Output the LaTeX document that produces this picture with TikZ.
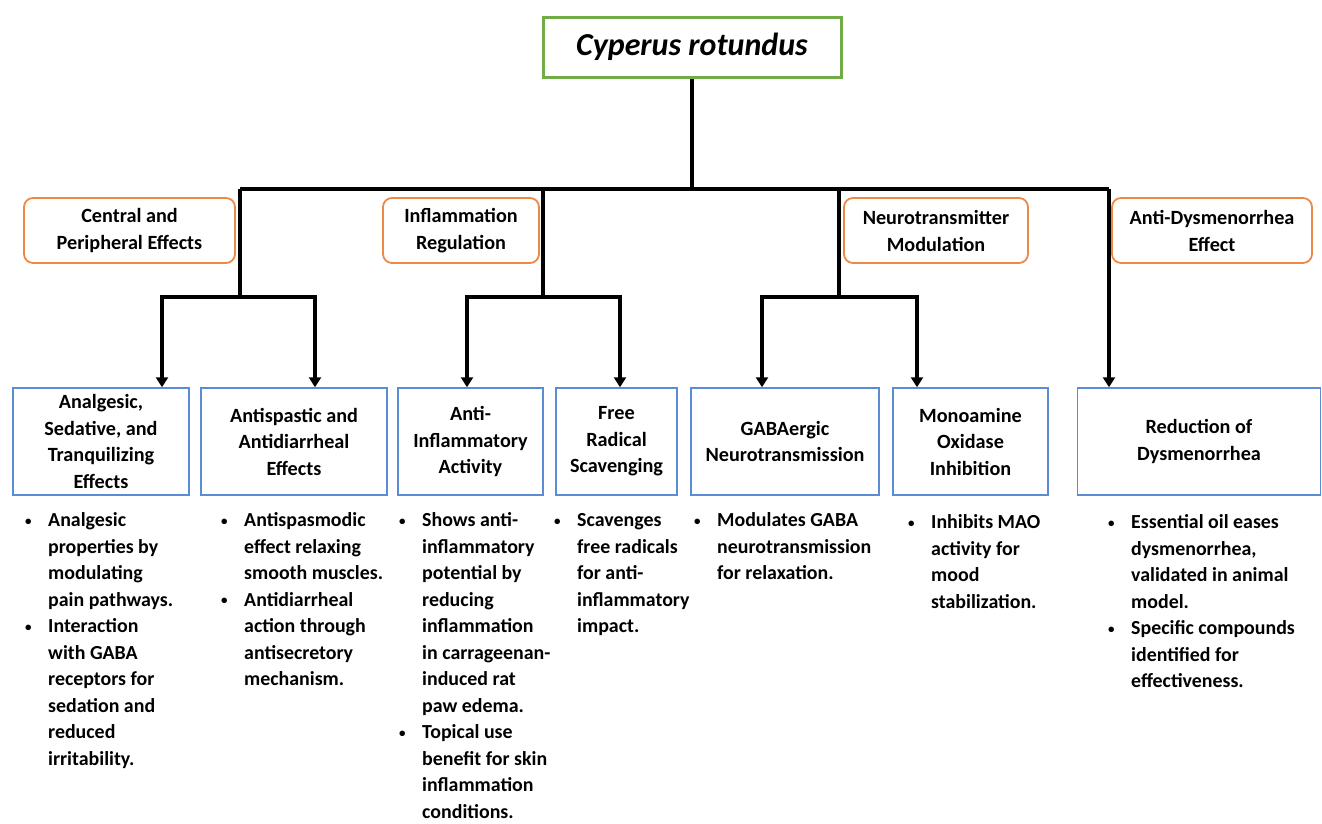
\documentclass[tikz,border=0pt]{standalone}
\usepackage{fontspec}
\setmainfont{Carlito}
\usetikzlibrary{arrows.meta}
\definecolor{rootgreen}{RGB}{112,173,71}
\definecolor{catorange}{RGB}{237,137,70}
\definecolor{itemblue}{RGB}{91,141,214}
\newcommand{\bul}{\raisebox{1.5pt}{\fontsize{13}{13}\selectfont\textbullet}}
\tikzstyle{root} = [rectangle, minimum width=298pt, minimum height=60pt, inner sep=0pt, draw=rootgreen, line width=3pt, font=\bfseries\itshape\fontsize{32}{38}\selectfont]
\tikzstyle{category} = [rectangle, rounded corners=9pt, minimum height=65pt, inner sep=0pt, align=center, draw=catorange, line width=1.8pt, font=\bfseries\fontsize{20.2}{27}\selectfont]
\tikzstyle{effect} = [rectangle, minimum height=107pt, inner sep=0pt, align=center, draw=itemblue, line width=1.5pt, font=\bfseries\fontsize{20.2}{26.5}\selectfont]
\tikzstyle{bullets} = [anchor=north west, inner sep=0pt, font=\bfseries\fontsize{19.9}{26.5}\selectfont]
\tikzstyle{conn} = [line width=3.6pt]
\tikzstyle{arrow} = [line width=3.6pt, -{Triangle[width=12pt,length=10pt]}]
\tikzstyle{arrows2} = [line width=3.6pt, {Triangle[width=12pt,length=10pt]}-{Triangle[width=12pt,length=10pt]}]

\begin{document}
\begin{tikzpicture}[x=1pt, y=-1pt]
    \useasboundingbox (0,0) rectangle (1322,823);
    %nodes
    \node (root) [root] at (692,47) {Cyperus rotundus};

    \node (cpe) [category, minimum width=211pt] at (129.5,230.5) {Central and\\Peripheral Effects};
    \node (infl) [category, minimum width=156pt] at (461,230.5) {Inflammation\\Regulation};
    \node (neu) [category, minimum width=184pt] at (936,230.5) {Neurotransmitter\\Modulation};
    \node (adys) [category, minimum width=200pt] at (1212,230.5) {Anti-Dysmenorrhea\\Effect};

    \node (anl) [effect, minimum width=176pt] at (101,441.5) {Analgesic,\\Sedative, and\\Tranquilizing\\Effects};
    \node (asp) [effect, minimum width=186pt] at (294,441.5) {Antispastic and\\Antidiarrheal\\Effects};
    \node (ainf) [effect, minimum width=145pt] at (470.5,441.5) {Anti-\\Inflammatory\\Activity};
    \node (frs) [effect, minimum width=121pt] at (616.5,441.5) {Free\\Radical\\Scavenging};
    \node (gaba) [effect, minimum width=188pt] at (785,441.5) {GABAergic\\Neurotransmission};
    \node (mao) [effect, minimum width=155pt] at (970.5,441.5) {Monoamine\\Oxidase\\Inhibition};
    \node (red) [effect, minimum width=243pt] at (1199,441.5) {Reduction of\\Dysmenorrhea};

    %bullet texts
    \node (txt1) [bullets] at (25,508) {\begin{tabular}{@{}p{23pt}@{}l@{}}
    \bul & Analgesic\\ & properties by\\ & modulating\\ & pain pathways.\\
    \bul & Interaction\\ & with GABA\\ & receptors for\\ & sedation and\\ & reduced\\ & irritability.
    \end{tabular}};
    \node (txt2) [bullets] at (221,508) {\begin{tabular}{@{}p{23pt}@{}l@{}}
    \bul & Antispasmodic\\ & effect relaxing\\ & smooth muscles.\\
    \bul & Antidiarrheal\\ & action through\\ & antisecretory\\ & mechanism.
    \end{tabular}};
    \node (txt3) [bullets] at (399,508) {\begin{tabular}{@{}p{23pt}@{}l@{}}
    \bul & Shows anti-\\ & inflammatory\\ & potential by\\ & reducing\\ & inflammation\\ & in carrageenan-\\ & induced rat\\ & paw edema.\\
    \bul & Topical use\\ & benefit for skin\\ & inflammation\\ & conditions.
    \end{tabular}};
    \node (txt4) [bullets] at (554,508) {\begin{tabular}{@{}p{23pt}@{}l@{}}
    \bul & Scavenges\\ & free radicals\\ & for anti-\\ & inflammatory\\ & impact.
    \end{tabular}};
    \node (txt5) [bullets] at (694,508) {\begin{tabular}{@{}p{23pt}@{}l@{}}
    \bul & Modulates GABA\\ & neurotransmission\\ & for relaxation.
    \end{tabular}};
    \node (txt6) [bullets] at (908,510) {\begin{tabular}{@{}p{23pt}@{}l@{}}
    \bul & Inhibits MAO\\ & activity for\\ & mood\\ & stabilization.
    \end{tabular}};
    \node (txt7) [bullets] at (1108,510) {\begin{tabular}{@{}p{23pt}@{}l@{}}
    \bul & Essential oil eases\\ & dysmenorrhea,\\ & validated in animal\\ & model.\\
    \bul & Specific compounds\\ & identified for\\ & effectiveness.
    \end{tabular}};

    %junctions
    \coordinate (busL) at (240,189);
    \coordinate (busR) at (1109,189);
    \coordinate (drop1) at (240,297);
    \coordinate (drop2) at (543,297);
    \coordinate (drop3) at (839,297);
    \coordinate (f1a) at (162,297);
    \coordinate (f1b) at (315,297);
    \coordinate (f2a) at (467,297);
    \coordinate (f2b) at (620,297);
    \coordinate (f3a) at (762,297);
    \coordinate (f3b) at (917,297);

    %arrows
    \draw [conn] (root) -- (root |- busL);
    \draw [conn] (busL) -- (busR);
    \draw [conn] (busL) -- (drop1);
    \draw [conn] (drop2 |- busL) -- (drop2);
    \draw [conn] (drop3 |- busL) -- (drop3);
    \draw [arrows2] (anl.north -| f1a) -- (f1a) -- (f1b) -- (asp.north -| f1b);
    \draw [arrows2] (ainf.north -| f2a) -- (f2a) -- (f2b) -- (frs.north -| f2b);
    \draw [arrows2] (gaba.north -| f3a) -- (f3a) -- (f3b) -- (mao.north -| f3b);
    \draw [arrow] (busR) -- (red.north -| busR);

\end{tikzpicture}
\end{document}
